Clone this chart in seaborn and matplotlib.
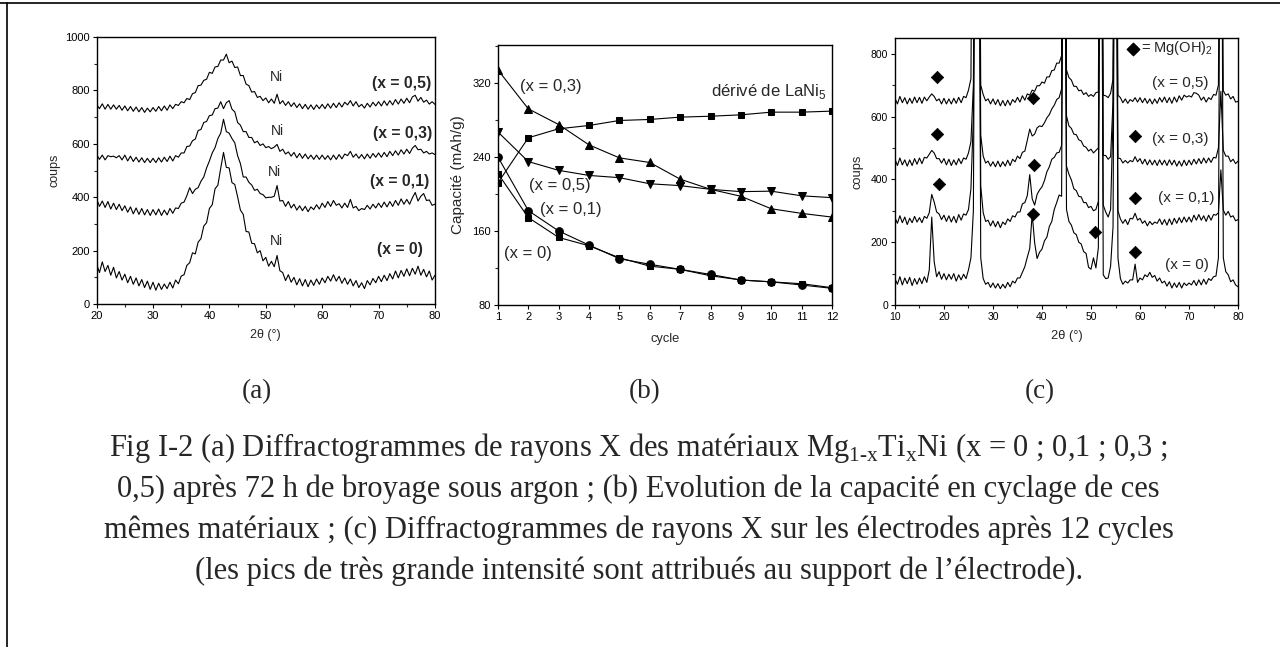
import numpy as np
import pandas as pd
import matplotlib
matplotlib.use("Agg")
import matplotlib.pyplot as plt
import seaborn as sns
from matplotlib.lines import Line2D
from matplotlib.ticker import MultipleLocator

# ---------------------------------------------------------------- data
# (a) XRD after 72 h milling, 2theta step 0.5 deg (20 -> 80)
TT_A = np.arange(20, 80.5, 0.5)
XRD_A_X0 = [
    150, 118, 158, 122, 145, 108, 138, 98, 122, 90,
    112, 80, 104, 74, 98, 68, 92, 62, 86, 55,
    82, 52, 78, 55, 75, 58, 82, 60, 90, 76,
    105, 110, 145, 155, 192, 188, 232, 245, 292, 305,
    358, 372, 432, 445, 508, 568, 512, 510, 455, 448,
    402, 352, 336, 272, 270, 228, 226, 192, 200, 162,
    175, 142, 160, 140, 182, 125, 118, 88, 110, 82,
    100, 72, 95, 68, 92, 65, 90, 70, 94, 74,
    98, 80, 104, 86, 110, 86, 104, 78, 98, 74,
    94, 68, 88, 62, 80, 58, 88, 72, 96, 80,
    104, 84, 108, 88, 114, 94, 124, 98, 126, 104,
    132, 106, 134, 112, 142, 108, 130, 102, 124, 90,
    108,
]
XRD_A_X1 = [
    394, 366, 386, 362, 384, 356, 378, 354, 374, 350,
    368, 344, 364, 338, 360, 336, 358, 334, 354, 332,
    354, 334, 356, 332, 352, 334, 358, 340, 360, 358,
    378, 382, 406, 436, 414, 430, 436, 460, 476, 510,
    536, 566, 586, 620, 640, 692, 646, 640, 620, 604,
    556, 526, 476, 476, 456, 446, 426, 430, 414, 410,
    398, 400, 400, 404, 444, 386, 388, 366, 384, 360,
    374, 352, 368, 350, 366, 346, 364, 354, 372, 356,
    378, 362, 384, 366, 388, 370, 376, 360, 378, 362,
    392, 360, 366, 350, 358, 354, 370, 356, 374, 360,
    378, 362, 382, 364, 384, 366, 388, 370, 394, 374,
    392, 374, 398, 418, 386, 404, 414, 388, 390, 370,
    374,
]
XRD_A_X3 = [
    560, 542, 558, 540, 556, 552, 554, 548, 556, 540,
    558, 536, 554, 534, 550, 532, 548, 530, 546, 530,
    546, 530, 548, 532, 550, 534, 554, 536, 556, 550,
    566, 566, 590, 592, 612, 618, 650, 654, 680, 684,
    706, 708, 732, 734, 758, 732, 754, 762, 730, 720,
    680, 670, 646, 646, 624, 624, 604, 610, 594, 600,
    586, 590, 582, 588, 598, 572, 580, 562, 570, 554,
    568, 548, 564, 546, 562, 544, 558, 542, 558, 542,
    558, 542, 556, 540, 558, 542, 560, 544, 562, 556,
    572, 550, 562, 546, 560, 544, 562, 546, 564, 550,
    566, 550, 568, 552, 572, 556, 574, 558, 578, 562,
    580, 564, 584, 594, 578, 580, 566, 572, 562, 566,
    560,
]
XRD_A_X5 = [
    748, 732, 750, 730, 748, 730, 746, 730, 744, 726,
    742, 724, 740, 722, 738, 720, 736, 718, 734, 720,
    736, 722, 740, 724, 742, 726, 746, 732, 748, 744,
    758, 754, 770, 766, 788, 792, 818, 820, 838, 842,
    868, 864, 888, 890, 914, 914, 936, 904, 910, 886,
    888, 856, 856, 824, 818, 794, 796, 774, 778, 762,
    772, 754, 768, 752, 786, 750, 762, 744, 758, 740,
    754, 736, 750, 732, 748, 730, 746, 729, 746, 732,
    748, 732, 750, 734, 752, 736, 754, 738, 756, 746,
    762, 742, 758, 739, 748, 734, 752, 738, 756, 742,
    758, 742, 761, 744, 762, 746, 766, 749, 768, 752,
    771, 754, 776, 782, 760, 774, 756, 764, 749, 758,
    748,
]
LABELS_A = ["(x = 0)", "(x = 0,1)", "(x = 0,3)", "(x = 0,5)"]
LABEL_POS_A = [(73.8, 203), (73.8, 459), (74.3, 640), (74.1, 828)]
NI_POS_A = [(51.8, 238), (51.6, 493), (52.0, 647), (51.8, 850)]

# (b) capacity vs cycle
CYCLES = list(range(1, 13))
CAP_X0 = [222, 174.5, 153, 144, 131, 122, 118.5, 111.6, 107, 105, 103, 98.7]
CAP_X1 = [240, 182, 160, 144.7, 130, 124, 118.5, 113, 107, 105, 101.6, 98]
CAP_X3 = [334, 292, 275, 253, 239, 234, 216, 205, 197.5, 184, 179, 175]
CAP_X5 = [267, 235, 225.5, 220, 217.6, 211, 209, 205, 202.5, 203, 198, 196]
CAP_LANI5 = [212, 260.7, 270.4, 274, 279.4, 280.5, 283, 284, 285.5, 288.4, 288.4, 289.5]

# (c) XRD on electrodes after 12 cycles, 2theta step 0.5 deg (10 -> 80)
TT_C = np.arange(10, 80.5, 0.5)
XRD_C_X0 = [
    84, 66, 90, 64, 86, 68, 88, 62, 84, 66,
    86, 68, 90, 72, 112, 280, 138, 90, 106, 82,
    100, 80, 98, 82, 100, 76, 96, 80, 98, 84,
    112, 150, 300, 2000, 2000, 150, 84, 66, 72, 56,
    70, 54, 68, 52, 66, 54, 72, 58, 76, 70,
    86, 86, 104, 122, 152, 180, 290, 198, 148, 168,
    178, 204, 216, 250, 266, 304, 326, 350, 346, 2000,
    304, 266, 254, 230, 224, 200, 194, 170, 164, 120,
    114, 150, 118, 182, 2000, 96, 84, 86, 124, 250,
    2000, 150, 84, 66, 76, 70, 80, 80, 130, 72,
    86, 80, 96, 90, 104, 88, 94, 76, 86, 70,
    76, 60, 74, 54, 70, 56, 72, 54, 70, 62,
    70, 64, 78, 62, 80, 64, 82, 66, 84, 78,
    90, 92, 150, 2000, 150, 106, 96, 74, 80, 64,
    58,
]
XRD_C_X1 = [
    278, 260, 284, 262, 280, 256, 276, 262, 282, 264,
    278, 262, 282, 276, 294, 352, 328, 296, 290, 272,
    286, 266, 284, 264, 282, 262, 288, 270, 290, 286,
    304, 370, 600, 2000, 2000, 380, 294, 266, 270, 252,
    268, 249, 266, 246, 264, 256, 274, 266, 284, 280,
    296, 296, 322, 326, 348, 415, 338, 318, 352, 366,
    376, 396, 424, 440, 464, 470, 484, 486, 508, 2000,
    442, 416, 398, 370, 364, 346, 344, 326, 326, 310,
    314, 300, 304, 330, 2000, 318, 296, 280, 304, 600,
    2000, 300, 274, 260, 272, 256, 276, 274, 292, 270,
    276, 260, 268, 252, 266, 256, 264, 260, 274, 256,
    272, 254, 274, 256, 276, 260, 278, 262, 280, 264,
    280, 264, 286, 270, 288, 270, 284, 266, 286, 270,
    288, 286, 294, 430, 302, 286, 298, 280, 284, 268,
    272,
]
XRD_C_X3 = [
    464, 444, 468, 446, 462, 442, 462, 444, 466, 448,
    468, 450, 470, 468, 480, 492, 484, 466, 466, 452,
    466, 446, 464, 444, 462, 446, 466, 450, 468, 464,
    484, 520, 700, 2000, 2000, 540, 474, 452, 458, 442,
    456, 440, 458, 440, 456, 442, 461, 444, 464, 456,
    474, 466, 486, 490, 524, 560, 538, 544, 564, 570,
    568, 580, 596, 606, 624, 636, 654, 660, 688, 2000,
    602, 570, 562, 544, 542, 526, 522, 506, 502, 490,
    496, 484, 492, 500, 2000, 476, 476, 464, 472, 650,
    2000, 468, 466, 452, 460, 452, 460, 456, 472, 456,
    466, 449, 464, 446, 462, 446, 461, 444, 462, 446,
    461, 444, 462, 446, 461, 442, 458, 442, 461, 444,
    461, 446, 464, 449, 466, 450, 468, 452, 468, 454,
    470, 468, 500, 680, 492, 474, 474, 456, 464, 450,
    458,
]
XRD_C_X5 = [
    658, 640, 664, 644, 660, 640, 658, 642, 662, 644,
    661, 642, 662, 650, 662, 672, 664, 650, 656, 640,
    658, 640, 656, 640, 658, 642, 661, 644, 664, 660,
    684, 720, 2000, 2000, 2000, 700, 670, 650, 656, 640,
    656, 638, 654, 634, 651, 634, 652, 636, 654, 645,
    661, 646, 666, 652, 672, 668, 684, 680, 698, 698,
    710, 706, 726, 726, 746, 748, 770, 770, 794, 2000,
    748, 724, 716, 696, 696, 682, 684, 670, 676, 664,
    670, 664, 676, 678, 2000, 668, 666, 660, 674, 720,
    2000, 668, 660, 644, 656, 642, 654, 648, 660, 646,
    660, 644, 658, 642, 656, 640, 656, 642, 660, 646,
    662, 644, 660, 642, 662, 646, 666, 652, 668, 662,
    666, 662, 676, 674, 668, 652, 662, 646, 660, 654,
    670, 668, 700, 2000, 682, 668, 672, 656, 664, 646,
    648,
]
LABELS_C = ["(x = 0)", "(x = 0,1)", "(x = 0,3)", "(x = 0,5)"]
LABEL_POS_C = [(69.5, 128), (69.5, 340), (68.3, 527), (68.3, 707)]
DIAMOND_TT = [18.6, 18.6, 19.0, 38.2, 38.4, 38.1, 50.9, 58.9, 58.9, 58.9]
DIAMOND_Y = [727, 543, 385, 660, 447, 290, 231, 537, 340, 170]

CAPTION = [
    "Fig I-2 (a) Diffractogrammes de rayons X des matériaux "
    "Mg$_{\\mathrm{1\u2010x}}$Ti$_{\\mathrm{x}}$Ni (x = 0 ; 0,1 ; 0,3 ;",
    "0,5) après 72 h de broyage sous argon ; (b) Evolution de la capacité en cyclage de ces",
    "mêmes matériaux ; (c) Diffractogrammes de rayons X sur les électrodes après 12 cycles",
    "(les pics de très grande intensité sont attribués au support de l\u2019électrode).",
]

# ---------------------------------------------------------------- style
sns.set_style("ticks")
plt.rcParams["font.family"] = ["Liberation Sans", "DejaVu Sans"]
plt.rcParams["mathtext.fontset"] = "custom"
plt.rcParams["mathtext.rm"] = "Liberation Serif"
plt.rcParams["mathtext.sf"] = "Liberation Sans"
plt.rcParams["axes.linewidth"] = 1.0
plt.rcParams["axes.edgecolor"] = "black"

fig = plt.figure(figsize=(12.8, 6.47), dpi=100)
ax_a = fig.add_axes([0.0755, 0.530, 0.2643, 0.4127])
ax_b = fig.add_axes([0.389, 0.5286, 0.261, 0.4019])
ax_c = fig.add_axes([0.6992, 0.5286, 0.268, 0.4127])


def style_axis(ax, labelsize=8):
    ax.tick_params(which="major", direction="out", length=3, width=0.8,
                   labelsize=labelsize, colors="black", pad=2)
    ax.tick_params(which="minor", direction="out", length=2, width=0.8)
    for s in ax.spines.values():
        s.set_visible(True)
        s.set_color("black")


# (a)
for vals in [XRD_A_X0, XRD_A_X1, XRD_A_X3, XRD_A_X5]:
    sns.lineplot(x=TT_A, y=vals, ax=ax_a, color="black", lw=0.8,
                 estimator=None, sort=False)
ax_a.set_xlim(20, 80)
ax_a.set_ylim(0, 1000)
ax_a.xaxis.set_major_locator(MultipleLocator(10))
ax_a.xaxis.set_minor_locator(MultipleLocator(5))
ax_a.yaxis.set_major_locator(MultipleLocator(200))
ax_a.yaxis.set_minor_locator(MultipleLocator(100))
ax_a.set_xlabel("2θ (°)", fontsize=9, labelpad=6)
ax_a.set_ylabel("coups", fontsize=9, labelpad=3)
for lab, (x, y) in zip(LABELS_A, LABEL_POS_A):
    ax_a.text(x, y, lab, fontsize=11.3, fontweight="bold", ha="center", va="center")
for x, y in NI_POS_A:
    ax_a.text(x, y, "Ni", fontsize=10, ha="center", va="center")
style_axis(ax_a, 8)

# (b)
series_b = [
    (CAP_X0, "s"), (CAP_X1, "o"), (CAP_X3, "^"), (CAP_X5, "v"), (CAP_LANI5, "s"),
]
for vals, mk in series_b:
    sns.lineplot(x=CYCLES, y=vals, ax=ax_b, color="black", lw=0.8,
                 marker=mk, markersize=5.5 if mk != "s" else 4.8,
                 markeredgecolor="black", estimator=None, sort=False)
ax_b.set_xlim(1, 12)
ax_b.set_ylim(80, 361)
ax_b.xaxis.set_major_locator(MultipleLocator(1))
ax_b.yaxis.set_major_locator(MultipleLocator(80))
ax_b.yaxis.set_minor_locator(MultipleLocator(40))
ax_b.set_xlabel("cycle", fontsize=9.3, labelpad=8)
ax_b.set_ylabel("Capacité (mAh/g)", fontsize=11, labelpad=5)
ax_b.text(2.74, 316, "(x = 0,3)", fontsize=12, ha="center", va="center")
ax_b.text(3.04, 208.6, "(x = 0,5)", fontsize=12, ha="center", va="center")
ax_b.text(3.39, 183, "(x = 0,1)", fontsize=12, ha="center", va="center")
ax_b.text(1.99, 135.7, "(x = 0)", fontsize=12, ha="center", va="center")
ax_b.text(9.9, 311, "dérivé de LaNi$_\\mathsf{5}$", fontsize=12, ha="center", va="center")
style_axis(ax_b, 8)

# (c)
for vals in [XRD_C_X0, XRD_C_X1, XRD_C_X3, XRD_C_X5]:
    sns.lineplot(x=TT_C, y=vals, ax=ax_c, color="black", lw=0.8,
                 estimator=None, sort=False)
sns.scatterplot(x=DIAMOND_TT, y=DIAMOND_Y, ax=ax_c, marker="D", s=40,
                color="black", edgecolor="black", zorder=5)
ax_c.set_xlim(10, 80)
ax_c.set_ylim(0, 850)
ax_c.xaxis.set_major_locator(MultipleLocator(10))
ax_c.xaxis.set_minor_locator(MultipleLocator(5))
ax_c.yaxis.set_major_locator(MultipleLocator(200))
ax_c.yaxis.set_minor_locator(MultipleLocator(100))
ax_c.set_xlabel("2θ (°)", fontsize=9.3, labelpad=6)
ax_c.set_ylabel("coups", fontsize=9.3, labelpad=5)
for lab, (x, y) in zip(LABELS_C, LABEL_POS_C):
    ax_c.text(x, y, lab, fontsize=11, ha="center", va="center")
ax_c.scatter([58.6], [816], marker="D", s=40, color="black", zorder=5)
ax_c.text(60.3, 819, "= Mg(OH)$_\\mathsf{2}$", fontsize=10.5, ha="left", va="center")
style_axis(ax_c, 7.5)

# panel letters and caption
for x, lab in [(0.201, "(a)"), (0.504, "(b)"), (0.8125, "(c)")]:
    fig.text(x, 0.394, lab, fontsize=19.5, family="Liberation Serif",
             ha="center", va="center")
for i, line in enumerate(CAPTION):
    fig.text(0.499, 0.3076 - i * 0.0634, line, fontsize=22,
             family="Liberation Serif", ha="center", va="center")

# frame lines (top and left)
fig.add_artist(Line2D([0, 1], [1 - 3 / 647, 1 - 3 / 647], transform=fig.transFigure,
                      color="black", lw=1.2))
fig.add_artist(Line2D([7 / 1280, 7 / 1280], [0, 1 - 3 / 647], transform=fig.transFigure,
                      color="black", lw=1.2))

fig.savefig("out.png", dpi=100)
